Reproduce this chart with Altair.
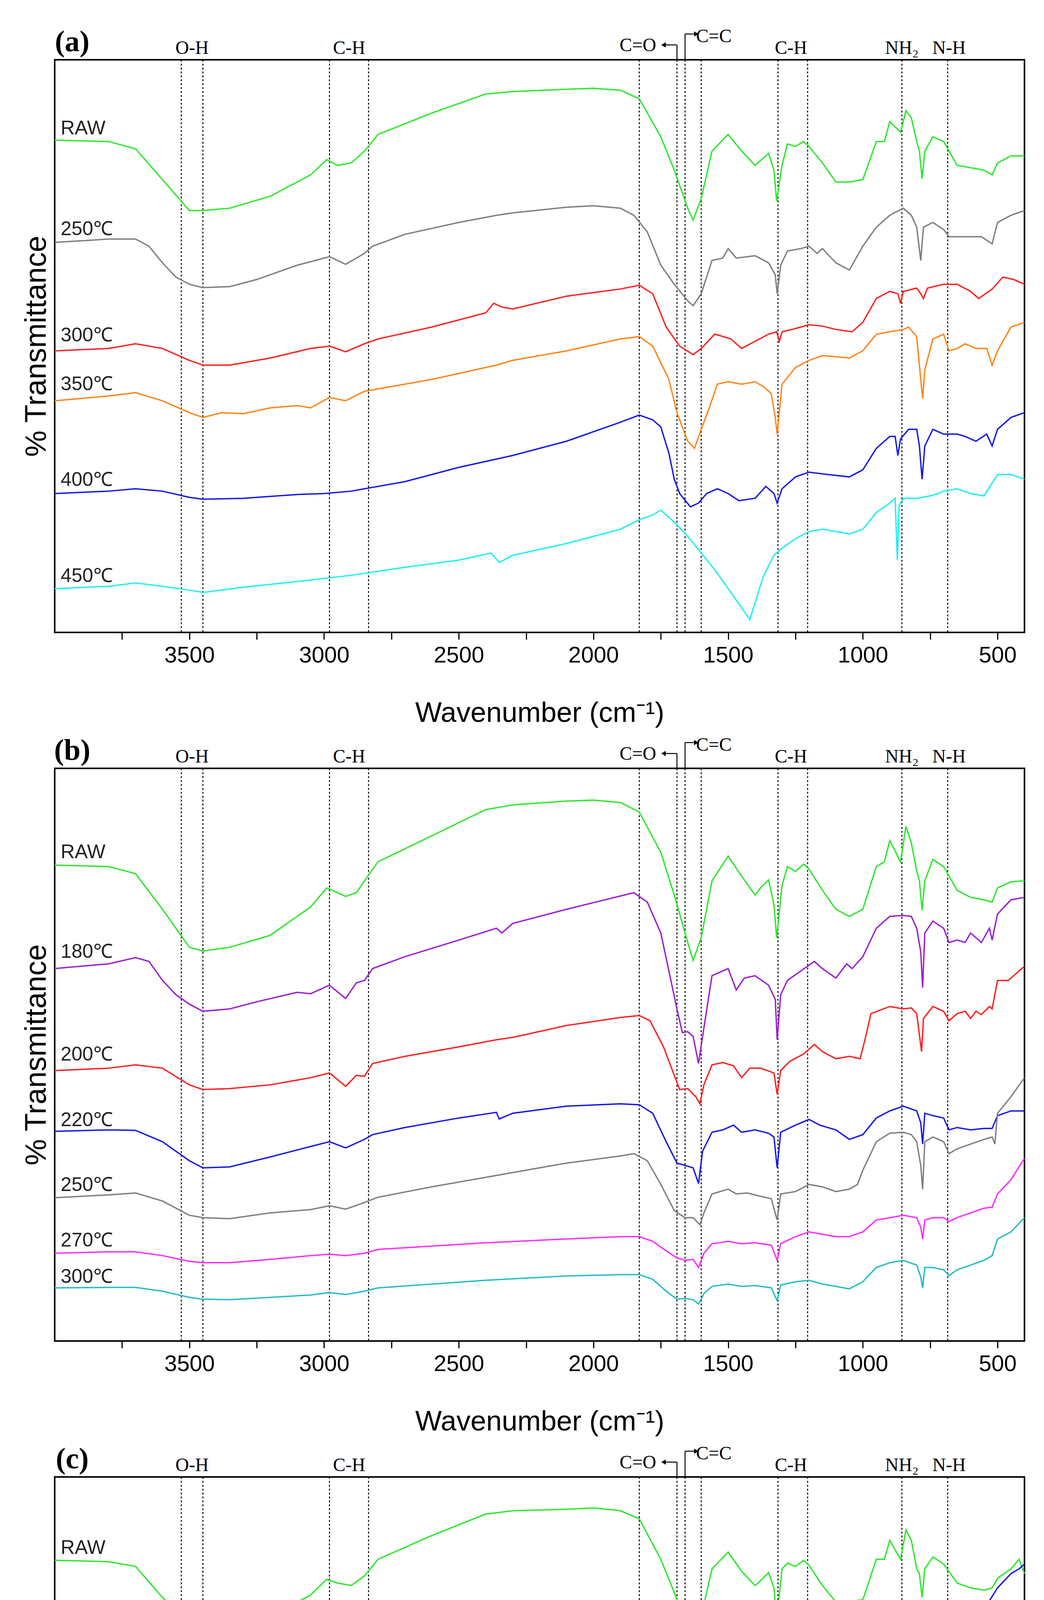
import altair as alt
import pandas as pd

# readings: (wavenumber, depth in panel units; larger = lower on the plot)
A_RAW = [(4000,297),(3800,300),(3700,315),(3600,380),(3500,445),(3450,445),(3350,440),(3200,415),(3050,370),(2990,338),(2950,350),(2900,345),(2850,320),(2800,285),(2600,240),(2400,200),(2300,195),(2100,190),(2000,188),(1900,192),(1830,210),(1750,290),(1700,360),(1650,440),(1630,465),(1600,420),(1560,320),(1500,285),(1450,320),(1400,350),(1380,340),(1350,325),(1330,360),(1320,425),(1300,350),(1280,305),(1250,310),(1220,300),(1200,310),(1150,345),(1100,385),(1050,385),(1000,380),(950,300),(920,300),(900,258),(860,280),(840,235),(820,250),(800,300),(790,320),(780,378),(770,320),(740,290),(700,300),(650,350),(600,355),(550,360),(520,370),(500,345),(450,330),(400,330)]
A_250 = [(4000,512),(3800,505),(3700,505),(3650,520),(3600,555),(3550,585),(3500,600),(3450,607),(3350,605),(3250,590),(3100,560),(3000,545),(2980,542),(2950,550),(2920,558),(2880,545),(2850,535),(2820,520),(2700,495),(2500,470),(2360,455),(2300,450),(2100,438),(2000,435),(1900,440),(1850,455),(1800,490),(1750,560),(1700,600),(1650,635),(1630,645),(1600,620),(1560,550),(1520,545),(1500,525),(1470,545),(1400,540),(1350,555),(1325,580),(1318,620),(1305,560),(1280,530),(1230,525),(1200,520),(1170,535),(1150,525),(1100,555),(1050,570),(1000,520),(950,480),(900,455),(850,440),(820,455),(800,480),(785,550),(775,480),(740,470),(700,485),(680,500),(620,500),(560,500),(520,515),(500,470),(450,455),(400,445)]
A_300 = [(4000,740),(3800,735),(3700,725),(3600,735),(3500,760),(3450,770),(3350,770),(3200,755),(3050,735),(2980,730),(2920,742),(2850,725),(2800,715),(2600,690),(2400,660),(2370,640),(2340,648),(2300,652),(2100,625),(1900,610),(1830,602),(1780,620),(1730,690),(1680,730),(1630,748),(1600,735),(1550,705),(1530,708),(1490,715),(1450,735),(1400,720),(1350,705),(1320,700),(1310,720),(1300,700),(1250,693),(1200,685),(1150,688),(1100,695),(1040,700),(1000,680),(950,630),(900,615),(870,620),(860,640),(850,615),(800,608),(785,620),(775,630),(760,608),(700,600),(650,600),(600,615),(570,630),(520,610),(480,585),(440,590),(400,600)]
A_350 = [(4000,845),(3800,835),(3700,828),(3600,845),(3500,870),(3450,880),(3380,870),(3300,872),(3200,860),(3100,855),(3050,860),(2980,838),(2920,845),(2850,825),(2800,820),(2600,800),(2400,775),(2360,770),(2300,760),(2100,740),(1900,715),(1830,710),(1780,730),(1720,800),(1690,870),(1650,930),(1625,945),(1600,905),(1570,860),(1540,810),(1500,805),(1450,810),(1400,805),(1370,815),(1340,830),(1325,880),(1318,915),(1300,810),(1250,775),(1200,760),(1150,750),(1050,755),(1000,740),(950,705),(900,700),(850,695),(830,690),(800,710),(785,800),(778,840),(770,780),(740,715),(700,705),(680,740),(650,735),(620,725),(580,735),(540,735),(520,770),(500,740),(450,690),(400,680)]
A_400 = [(4000,1040),(3800,1035),(3700,1030),(3600,1035),(3500,1048),(3450,1052),(3300,1050),(3100,1042),(3000,1040),(2900,1035),(2850,1030),(2700,1015),(2500,985),(2300,960),(2100,930),(1900,890),(1830,875),(1780,885),(1750,900),(1720,955),(1700,1010),(1680,1040),(1640,1068),(1610,1060),(1580,1040),(1540,1030),(1500,1040),(1460,1055),(1400,1050),(1360,1025),(1330,1040),(1318,1060),(1300,1030),(1250,1005),(1200,995),(1130,1000),(1050,1005),(1000,990),(950,945),(900,920),(880,920),(870,960),(860,925),(830,905),(800,905),(790,940),(780,1010),(770,940),(740,905),(700,915),(650,915),(620,920),(580,930),(540,915),(520,940),(500,905),(450,880),(400,870)]
A_450 = [(4000,1240),(3800,1235),(3700,1228),(3600,1235),(3500,1243),(3450,1248),(3300,1237),(3100,1225),(2900,1212),(2700,1195),(2500,1180),(2380,1165),(2350,1185),(2300,1170),(2100,1145),(1900,1115),(1830,1095),(1780,1085),(1750,1075),(1700,1100),(1650,1130),(1600,1165),(1550,1200),(1500,1240),(1450,1280),(1420,1305),(1400,1270),(1370,1215),(1330,1170),(1300,1155),(1250,1135),(1200,1120),(1150,1115),(1050,1125),(1000,1115),(950,1080),(900,1060),(880,1050),(872,1180),(865,1065),(850,1050),(800,1050),(750,1045),(720,1040),(700,1035),(650,1030),(600,1040),(550,1045),(500,1000),(450,1000),(400,1010)]

B_RAW = [(4000,297),(3800,300),(3700,315),(3600,390),(3500,470),(3450,478),(3350,470),(3200,445),(3050,385),(2990,345),(2950,355),(2920,363),(2880,355),(2850,330),(2800,290),(2600,235),(2400,180),(2300,170),(2100,162),(2000,160),(1900,165),(1830,185),(1750,270),(1700,360),(1650,460),(1630,498),(1600,450),(1560,330),(1500,278),(1450,320),(1400,360),(1380,345),(1350,328),(1330,380),(1320,450),(1300,340),(1280,300),(1250,310),(1220,295),(1200,305),(1150,350),(1100,390),(1050,405),(1000,390),(950,300),(920,290),(900,245),(860,290),(840,215),(820,250),(800,310),(790,330),(780,392),(770,330),(740,285),(700,300),(650,350),(600,365),(550,370),(520,375),(500,345),(450,332),(400,330)]
B_180 = [(4000,515),(3800,505),(3700,492),(3650,500),(3600,540),(3550,570),(3500,590),(3450,605),(3350,600),(3250,585),(3100,565),(3050,568),(2980,550),(2920,578),(2880,545),(2850,540),(2820,515),(2700,490),(2500,455),(2360,430),(2340,440),(2300,420),(2100,390),(1900,362),(1850,355),(1800,375),(1750,440),(1720,520),(1690,600),(1670,650),(1650,648),(1630,658),(1610,715),(1590,640),(1560,530),(1520,520),(1500,515),(1470,560),(1440,535),(1400,530),(1350,550),(1325,580),(1318,665),(1305,570),(1280,540),(1230,520),(1180,500),(1150,515),(1100,535),(1060,505),(1040,515),(1000,490),(950,430),(900,405),(850,403),(820,405),(800,430),(785,480),(778,555),(770,440),(740,415),(700,430),(680,460),(650,455),(620,460),(600,440),(560,460),(530,430),(520,455),(500,400),(450,370),(400,365)]
B_200 = [(4000,730),(3800,725),(3700,718),(3600,725),(3500,760),(3450,770),(3350,768),(3200,760),(3050,745),(2980,735),(2920,763),(2880,740),(2850,742),(2820,715),(2700,700),(2500,680),(2360,665),(2300,660),(2100,635),(1900,618),(1830,614),(1790,625),(1740,680),(1700,740),(1680,770),(1650,768),(1620,785),(1605,800),(1590,760),(1560,718),(1520,713),(1480,720),(1450,745),(1420,725),(1380,725),(1330,735),(1318,780),(1305,730),(1270,710),(1220,695),(1180,675),(1150,690),(1100,705),(1050,700),(1010,705),(990,660),(970,610),(900,595),(850,600),(820,598),(800,610),(782,690),(775,620),(740,595),(700,605),(680,625),(650,610),(620,605),(600,620),(580,605),(560,612),(530,595),(520,600),(500,540),(460,540),(430,525),(400,510)]
B_220 = [(4000,858),(3800,855),(3700,856),(3600,880),(3500,920),(3450,935),(3350,933),(3200,912),(3050,890),(2980,880),(2920,893),(2850,875),(2820,865),(2700,850),(2500,830),(2360,818),(2350,832),(2300,820),(2100,805),(1900,800),(1830,802),(1780,820),(1730,880),(1690,925),(1660,930),(1630,935),(1610,968),(1595,900),(1560,860),(1520,855),(1480,845),(1450,860),(1400,855),(1350,862),(1330,870),(1318,935),(1305,860),(1250,845),(1200,833),(1160,845),(1100,855),(1050,875),(1000,865),(950,830),(900,815),(850,805),(800,815),(785,840),(778,885),(770,820),(740,825),(700,830),(680,855),(650,850),(600,855),(550,852),(520,852),(500,825),(450,815),(400,815)]
B_250 = [(4000,998),(3800,992),(3700,988),(3600,1005),(3500,1035),(3450,1040),(3350,1042),(3200,1030),(3050,1023),(2980,1015),(2920,1022),(2850,1008),(2800,997),(2600,975),(2400,955),(2300,945),(2100,925),(1900,910),(1850,905),(1800,920),(1750,970),(1700,1025),(1660,1040),(1630,1040),(1605,1055),(1590,1030),(1560,990),(1500,980),(1470,990),(1430,988),(1380,995),(1340,1000),(1318,1045),(1305,990),(1250,985),(1200,970),(1150,975),(1100,985),(1050,980),(1020,970),(1000,940),(950,880),(900,862),(850,860),(820,865),(800,880),(785,930),(778,980),(770,880),(740,870),(700,880),(680,905),(650,895),(600,885),(550,875),(520,870),(510,885),(500,820),(450,785),(400,745)]
B_270 = [(4000,1115),(3800,1112),(3700,1112),(3600,1120),(3500,1132),(3450,1135),(3350,1135),(3200,1128),(3050,1120),(2980,1117),(2920,1120),(2850,1115),(2800,1107),(2600,1100),(2400,1093),(2100,1085),(1900,1080),(1830,1080),(1780,1090),(1730,1110),(1690,1125),(1660,1130),(1630,1128),(1610,1145),(1590,1115),(1560,1095),(1500,1090),(1450,1095),(1400,1093),(1340,1098),(1318,1130),(1305,1095),(1250,1080),(1200,1070),(1150,1075),(1100,1080),(1050,1080),(1000,1070),(950,1045),(900,1040),(850,1035),(800,1040),(785,1060),(778,1085),(770,1045),(740,1040),(700,1040),(680,1048),(650,1040),(600,1030),(550,1020),(520,1018),(500,990),(450,960),(400,915)]
B_300 = [(4000,1188),(3800,1187),(3700,1187),(3600,1195),(3500,1208),(3450,1212),(3350,1213),(3200,1208),(3050,1203),(2980,1198),(2920,1202),(2850,1195),(2800,1188),(2600,1180),(2400,1172),(2100,1163),(1900,1160),(1830,1160),(1780,1170),(1730,1195),(1690,1212),(1660,1210),(1630,1213),(1610,1222),(1590,1200),(1560,1185),(1500,1180),(1450,1185),(1400,1183),(1340,1188),(1318,1215),(1305,1182),(1250,1175),(1200,1172),(1150,1180),(1100,1185),(1050,1190),(1000,1175),(950,1145),(900,1135),(850,1130),(800,1140),(785,1165),(778,1188),(770,1145),(740,1145),(700,1150),(680,1162),(650,1150),(600,1140),(550,1130),(520,1120),(500,1085),(450,1070),(400,1040)]

C_RAW = [(4000,292),(3800,295),(3700,305),(3600,370),(3500,430),(3450,440),(3350,435),(3200,410),(3050,365),(2990,332),(2950,340),(2900,345),(2850,325),(2800,290),(2600,240),(2400,195),(2300,188),(2100,185),(2000,182),(1900,188),(1830,205),(1750,290),(1700,360),(1650,440),(1630,458),(1600,410),(1560,310),(1500,275),(1450,315),(1400,345),(1380,335),(1350,318),(1330,350),(1320,420),(1300,310),(1280,298),(1250,305),(1220,292),(1200,302),(1150,345),(1100,380),(1050,378),(1000,375),(950,290),(920,290),(900,250),(860,290),(840,228),(820,250),(800,310),(790,320),(780,370),(770,310),(740,285),(700,300),(650,340),(600,350),(550,355),(520,350),(500,330),(450,310),(420,290),(400,320)]
C_180 = [(4000,545),(3800,537),(3700,540),(3600,565),(3500,600),(3450,612),(3350,608),(3200,580),(3050,550),(2980,540),(2920,550),(2850,530),(2800,515),(2600,490),(2400,468),(2370,470),(2355,505),(2330,485),(2300,460),(2100,448),(2000,445),(1900,450),(1830,460),(1780,490),(1720,545),(1680,590),(1650,625),(1630,620),(1600,575),(1560,505),(1500,490),(1470,500),(1400,498),(1340,505),(1320,565),(1305,480),(1250,475),(1200,460),(1150,480),(1100,490),(1050,505),(1000,480),(950,420),(900,395),(850,383),(820,390),(800,400),(785,420),(778,430),(770,410),(740,395),(700,400),(680,420),(650,410),(600,410),(550,395),(500,350),(450,320),(420,310),(400,300)]
C_200 = [(4000,628),(3800,628),(3700,632),(3600,660),(3500,705),(3450,720),(3350,720),(3250,710),(3100,680),(3000,665),(2980,662),(2920,675),(2850,650),(2800,640),(2600,625),(2400,610),(2370,608),(2355,625),(2330,615),(2300,605),(2100,600),(1900,600),(1830,605),(1780,625),(1720,680),(1680,740),(1650,775),(1630,770),(1600,720),(1560,655),(1500,635),(1470,650),(1400,655),(1340,670),(1320,730),(1305,640),(1250,640),(1200,650),(1150,680),(1100,690),(1050,690),(1000,650),(950,590),(900,570),(850,565),(820,575),(800,590),(785,620),(778,620),(770,590),(740,590),(700,595),(650,600),(600,600),(560,575),(530,570),(500,510),(450,490),(420,480),(400,470)]
C_220 = [(4000,840),(3800,840),(3700,842),(3600,860),(3500,883),(3450,887),(3350,887),(3200,870),(3050,860),(2980,855),(2920,862),(2850,845),(2800,835),(2600,825),(2400,815),(2100,800),(1900,800),(1830,802),(1780,818),(1720,860),(1680,895),(1650,898),(1620,905),(1600,880),(1560,830),(1500,815),(1470,825),(1400,825),(1340,840),(1320,875),(1305,805),(1250,800),(1200,795),(1150,810),(1100,820),(1050,810),(1000,790),(950,720),(900,690),(850,683),(820,690),(800,705),(785,740),(778,760),(770,705),(740,695),(700,700),(680,685),(650,670),(600,655),(540,600),(520,625),(500,560),(460,490),(420,430),(400,400)]
C_240 = [(4000,983),(3800,980),(3700,980),(3600,995),(3500,1020),(3450,1028),(3350,1025),(3200,1015),(3050,1000),(2980,993),(2920,1000),(2850,980),(2800,965),(2600,945),(2400,925),(2370,925),(2355,945),(2330,930),(2300,915),(2100,905),(1900,905),(1830,908),(1780,930),(1720,1000),(1690,1040),(1660,1035),(1630,1045),(1610,1055),(1590,1010),(1560,960),(1500,945),(1470,960),(1400,958),(1340,975),(1320,1030),(1305,935),(1250,925),(1200,910),(1150,925),(1100,940),(1050,935),(1000,915),(950,800),(900,780),(850,770),(820,770),(800,800),(785,880),(778,930),(770,790),(740,770),(700,785),(680,835),(660,805),(600,780),(560,760),(530,750),(520,770),(500,680),(460,600),(420,540),(400,500)]
C_250 = [(4000,1110),(3800,1100),(3700,1098),(3600,1130),(3550,1160),(3500,1195),(3450,1215),(3400,1213),(3350,1220),(3300,1212),(3200,1180),(3100,1175),(3050,1165),(2990,1155),(2950,1170),(2920,1185),(2880,1165),(2850,1145),(2820,1115),(2700,1080),(2500,1045),(2380,1020),(2360,1040),(2330,1020),(2200,1000),(2100,980),(2000,972),(1900,975),(1830,990),(1790,1040),(1750,1150),(1700,1250),(1680,1262),(1650,1260),(1630,1270),(1610,1300),(1590,1220),(1560,1135),(1520,1130),(1500,1125),(1470,1160),(1420,1150),(1380,1160),(1340,1165),(1325,1200),(1318,1270),(1305,1150),(1270,1130),(1240,1128),(1200,1110),(1170,1120),(1150,1130),(1120,1150),(1100,1170),(1070,1160),(1040,1165),(1000,1070),(960,990),(900,965),(860,950),(820,960),(800,990),(785,1080),(778,1155),(770,1000),(740,978),(700,990),(680,1060),(650,1040),(600,1025),(560,1020),(530,1000),(520,1025),(500,920),(460,890),(420,860),(400,810)]

GREEN, GRAY, RED, ORANGE, BLUE, CYAN = "#2de82d", "#7f7f7f", "#ff1f1f", "#ff8419", "#1717e8", "#1ff0f0"
PURPLE, MAGENTA, TEAL, YELLOW = "#9b1fcf", "#ff2bff", "#22bdc4", "#e8d020"

# panel: letter, frame top, frame bottom, [(name, data, colour, label depth)]
panels = [
    ("(a)", 128, 1332, [("RAW", A_RAW, GREEN, 285), ("250℃", A_250, GRAY, 497),
                        ("300℃", A_300, RED, 720), ("350℃", A_350, ORANGE, 823),
                        ("400℃", A_400, BLUE, 1024), ("450℃", A_450, CYAN, 1226)]),
    ("(b)", 93, 1300, [("RAW", B_RAW, GREEN, 282), ("180℃", B_180, PURPLE, 492),
                       ("200℃", B_200, RED, 709), ("220℃", B_220, BLUE, 847),
                       ("250℃", B_250, GRAY, 984), ("270℃", B_270, MAGENTA, 1101),
                       ("300℃", B_300, TEAL, 1177)]),
    ("(c)", 117, 1320, [("RAW", C_RAW, GREEN, 279), ("180℃", C_180, BLUE, 526),
                        ("200℃", C_200, MAGENTA, 619), ("220℃", C_220, CYAN, 824),
                        ("240℃", C_240, YELLOW, 966), ("250℃", C_250, GRAY, 1089)]),
]

marker_lines = [3530, 3450, 2980, 2835, 1830, 1690, 1660, 1600, 1315, 1205, 855, 685]
bond_labels = ["O-H", "C-H", "C=O", "C=C", "C-H", "NH₂", "N-H"]
bond_pos = [3490, 2907, 1835, 1553, 1267, 855, 680]
bond_up = [15, 15, 22, 45, 15, 15, 15]

W, H = 2482, 1466
xscale = alt.Scale(domain=[4000, 400], nice=False, zero=False)


def panel(letter, top, bottom, series):
    rows = []
    for name, pts, col, _ in series:
        for wn, d in pts:
            rows.append({"series": name, "wn": wn, "d": d, "col": col})
    df = pd.DataFrame(rows)
    yscale = alt.Scale(domain=[bottom, top], nice=False, zero=False)
    x = alt.X("wn:Q", scale=xscale, title="Wavenumber (cm⁻¹)",
              axis=alt.Axis(values=list(range(3750, 400, -250)),
                            labelExpr="datum.value % 500 == 0 ? datum.label : ''",
                            format="d", grid=False, domain=False, ticks=True,
                            tickSize=18, tickWidth=3, tickColor="black",
                            labelFontSize=58, labelPadding=12, labelColor="black",
                            titleFontSize=72, titleFontWeight="normal",
                            titlePadding=83, titleColor="black",
                            labelFont="Liberation Sans", titleFont="Liberation Sans"))
    y = alt.Y("d:Q", scale=yscale, title="% Transmittance",
              axis=alt.Axis(labels=False, ticks=False, domain=False, grid=False,
                            titleFontSize=76, titleFontWeight="normal",
                            titlePadding=8, titleColor="black",
                            titleFont="Liberation Sans"))
    lines = alt.Chart(df).mark_line(strokeWidth=3.5).encode(
        x=x, y=y, detail="series:N", color=alt.Color("col:N", scale=None))

    lab = pd.DataFrame({"t": [s[0] for s in series], "d": [s[3] for s in series],
                        "wn": [3978] * len(series)})
    labels = alt.Chart(lab).mark_text(align="left", baseline="alphabetic", fontSize=50,
                                      font="Liberation Sans", color="#222").encode(
        x=alt.X("wn:Q", scale=xscale), y=alt.Y("d:Q", scale=yscale), text="t:N")

    rl = pd.DataFrame({"wn": marker_lines})
    rules = alt.Chart(rl).mark_rule(color="black", strokeWidth=2.5, strokeDash=[5, 5]).encode(
        x=alt.X("wn:Q", scale=xscale), y=alt.value(0), y2=alt.value(H))

    k = (bottom - top) / H  # depth units per pixel
    bl = pd.DataFrame({"t": bond_labels, "wn": bond_pos,
                       "d": [top - u * k for u in bond_up]})
    bonds = alt.Chart(bl).mark_text(baseline="alphabetic", fontSize=48, clip=False,
                                    font="Liberation Serif", color="black").encode(
        x=alt.X("wn:Q", scale=xscale), y=alt.Y("d:Q", scale=yscale), text="t:N")

    br = pd.DataFrame({"wn": [1690, 1690, 1660, 1660], "wn2": [1690, 1735, 1660, 1625],
                       "d": [top, top - 38 * k, top, top - 66 * k],
                       "d2": [top - 38 * k, top - 38 * k, top - 66 * k, top - 66 * k]})
    bracket = alt.Chart(br).mark_rule(color="black", strokeWidth=2.5, clip=False).encode(
        x=alt.X("wn:Q", scale=xscale), x2="wn2:Q",
        y=alt.Y("d:Q", scale=yscale), y2="d2:Q")
    ar = pd.DataFrame({"wn": [1740, 1618], "d": [top - 38 * k, top - 66 * k],
                       "s": ["triangle-left", "triangle-right"]})
    arrows = alt.Chart(ar).mark_point(filled=True, color="black", size=180, opacity=1,
                                      clip=False).encode(
        x=alt.X("wn:Q", scale=xscale), y=alt.Y("d:Q", scale=yscale),
        shape=alt.Shape("s:N", scale=None))

    tag = pd.DataFrame({"t": [letter], "wn": [3935], "d": [top - 45 * k]})
    tagt = alt.Chart(tag).mark_text(fontSize=76, fontWeight="bold", baseline="middle",
                                    font="Liberation Serif", color="black", clip=False).encode(
        x=alt.X("wn:Q", scale=xscale), y=alt.Y("d:Q", scale=yscale), text="t:N")

    return alt.layer(rules, lines, labels, bonds, bracket, arrows, tagt).properties(
        width=W, height=H)


chart = alt.vconcat(*[panel(*p) for p in panels], spacing=19).properties(
    padding={"left": 45, "top": 60, "right": 30, "bottom": 10},
    background="white"
).configure_view(stroke="black", strokeWidth=4)

chart.save("out.html", embed_options={"renderer": "svg", "actions": False})
